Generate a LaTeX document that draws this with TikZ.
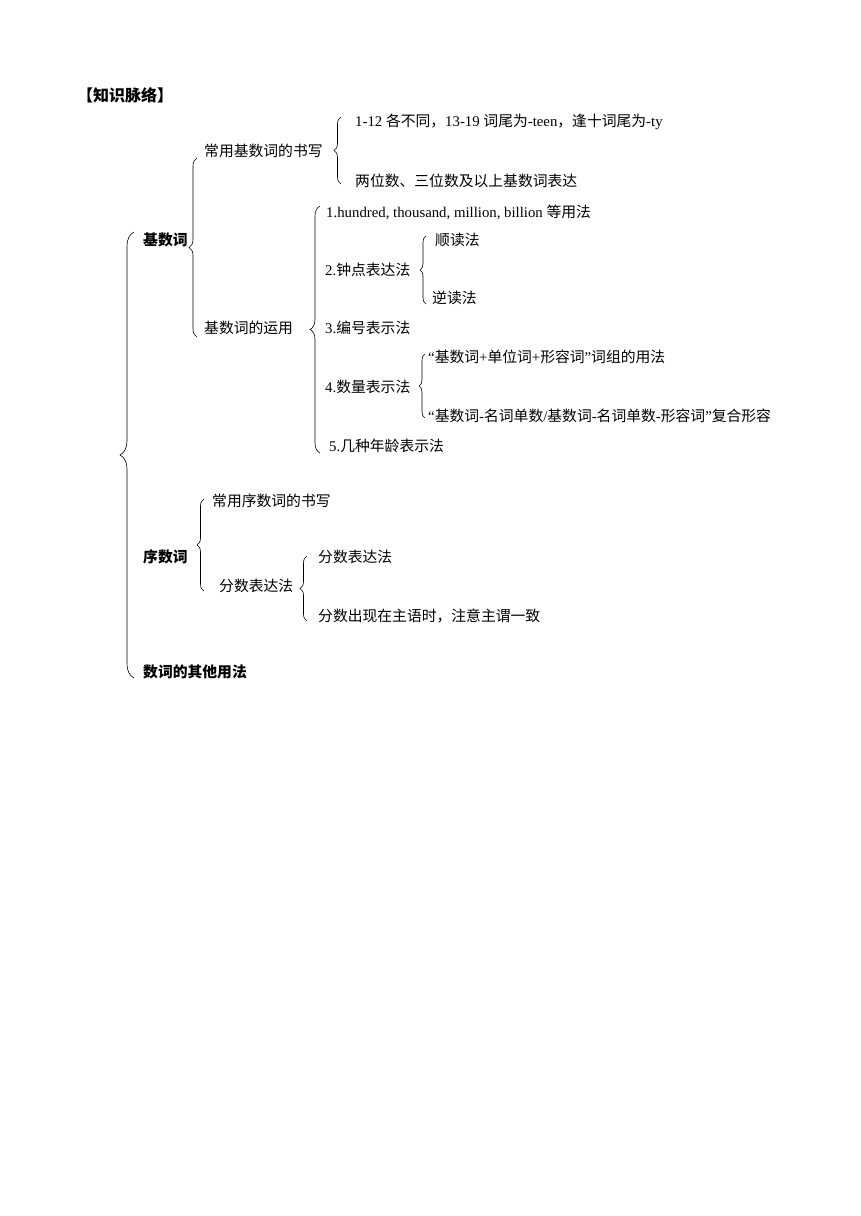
\documentclass[tikz,border=0pt]{standalone}
\usepackage{fontspec}
\setmainfont{Liberation Serif}
\newfontfamily\cjk{Noto Sans CJK SC}
\usetikzlibrary{decorations.pathreplacing}
\newcommand\zh[1]{{\cjk #1}}
\tikzset{
	item/.style={anchor=base west,inner sep=0pt,font=\fontsize{14.8}{17}\selectfont},
	head/.style={item,font=\fontsize{14.8}{17}\selectfont\bfseries},
	brc/.style={decorate,decoration={brace,amplitude=#1},line width=0.6pt},
	brc/.default=7
}

\begin{document}
\begin{tikzpicture}[x=1pt,y=-1pt]
	\useasboundingbox (0,0) rectangle (860,1216);
	\node [head,font=\fontsize{16}{18}\selectfont\bfseries] (title) at (77,101) {\zh{【知识脉络】}};
	% cardinal numbers
	\node [head] (card) at (143,245) {\zh{基数词}};
	\node [item] (cw) at (204,156) {\zh{常用基数词的书写}};
	\node [item] (cw1) at (355,126) {1-12 \zh{各不同，}13-19 \zh{词尾为}-teen\zh{，逢十词尾为}-ty};
	\node [item] (cw2) at (355,186) {\zh{两位数、三位数及以上基数词表达}};
	\node [item] (cu) at (204,333) {\zh{基数词的运用}};
	\node [item] (cu1) at (326,217) {1.hundred, thousand, million, billion \zh{等用法}};
	\node [item] (cu2) at (325,275) {2.\zh{钟点表达法}};
	\node [item] (cu21) at (435,245) {\zh{顺读法}};
	\node [item] (cu22) at (432,303) {\zh{逆读法}};
	\node [item] (cu3) at (325,333) {3.\zh{编号表示法}};
	\node [item] (cu4) at (325,392) {4.\zh{数量表示法}};
	\node [item] (cu41) at (428,362) {“\zh{基数词}+\zh{单位词}+\zh{形容词}”\zh{词组的用法}};
	\node [item] (cu42) at (428,421) {“\zh{基数词}-\zh{名词单数}/\zh{基数词}-\zh{名词单数}-\zh{形容词}”\zh{复合形容}};
	\node [item] (cu5) at (329,451) {5.\zh{几种年龄表示法}};
	% ordinal numbers
	\node [head] (ord) at (143,562) {\zh{序数词}};
	\node [item] (ow) at (212,506) {\zh{常用序数词的书写}};
	\node [item] (of) at (219,591) {\zh{分数表达法}};
	\node [item] (of1) at (318,562) {\zh{分数表达法}};
	\node [item] (of2) at (318,621) {\zh{分数出现在主语时，注意主谓一致}};
	% others
	\node [head] (oth) at (143,677) {\zh{数词的其他用法}};
	% braces: x / top / bottom / amplitude
	\foreach \x/\t/\b/\a in {134/232/678/14, 197/158/337/8, 341/117/184/7,
		320/206/453/10, 426/236/304/6, 425/354/418/6, 204/499/591/7, 307/556/621/7}
		\draw [brc=\a] (\x,\b) -- (\x,\t);
\end{tikzpicture}
\end{document}
